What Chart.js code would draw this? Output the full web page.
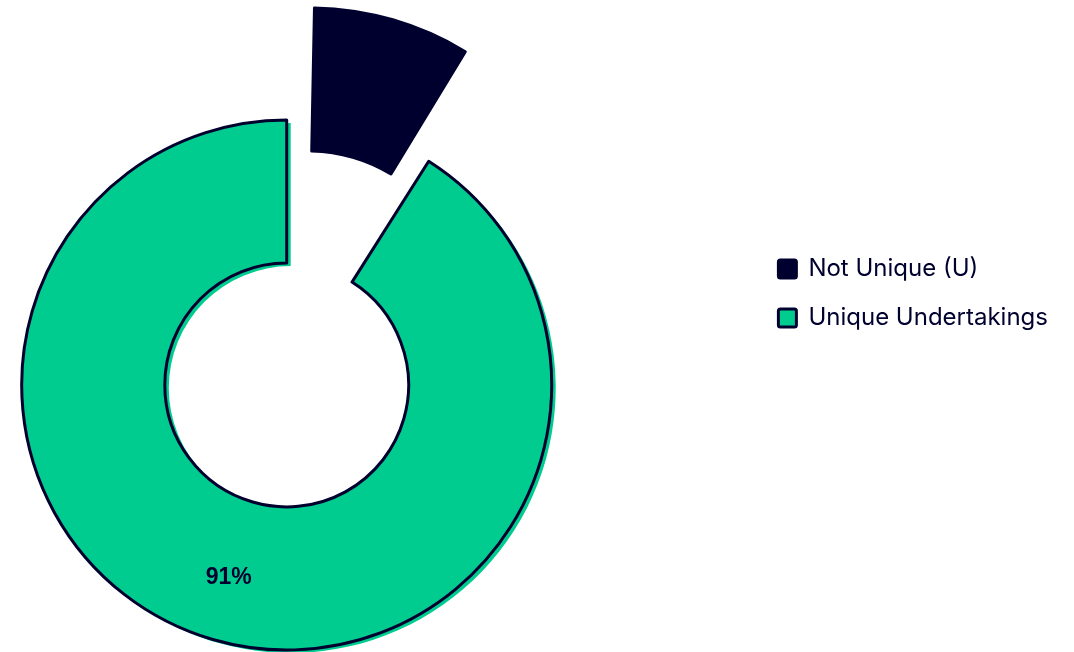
<!DOCTYPE html>
<html>
<head>
<meta charset="utf-8">
<title>Unique Undertakings</title>
<script src="https://cdn.jsdelivr.net/npm/chart.js@4.4.1/dist/chart.umd.min.js"></script>
<style>
  html, body { margin: 0; padding: 0; background: #fff; }
  #wrap { position: relative; width: 1074px; height: 652px; }
</style>
</head>
<body>
<div id="wrap"><canvas id="chart-unique"></canvas></div>
<script>
'use strict';

const categories = ['Not Unique (U)', 'Unique Undertakings'];
const shares = [9, 91];
const sliceColors = ['#00002f', '#00cc90'];
const shownLabels = [false, true];

const INK = '#00002f';
const LEGEND_GAP = 180;

// empty column between the ring and the legend
const legendGap = {
  id: 'legendGap',
  beforeInit(chart) {
    Chart.layouts.addBox(chart, {
      position: 'right',
      weight: 0,
      fullSize: false,
      options: {},
      width: 0,
      height: 0,
      isHorizontal: () => false,
      update(maxWidth, maxHeight) { this.width = LEGEND_GAP; this.height = maxHeight; },
      draw() {}
    });
  }
};

// loose fill drawn slightly off the outline, like a pen sketch
const sketchFill = {
  id: 'sketchFill',
  beforeDatasetsDraw(chart) {
    const ctx = chart.ctx;
    const meta = chart.getDatasetMeta(0);
    meta.data.forEach((arc, i) => {
      if (i === 0) return;
      const p = arc.getProps(['x', 'y', 'startAngle', 'endAngle', 'innerRadius', 'outerRadius']);
      ctx.save();
      ctx.translate(4, 3);
      ctx.fillStyle = sliceColors[i];
      ctx.beginPath();
      ctx.arc(p.x, p.y, p.outerRadius, p.startAngle, p.endAngle);
      ctx.arc(p.x, p.y, p.innerRadius, p.endAngle, p.startAngle, true);
      ctx.closePath();
      ctx.fill();
      ctx.restore();
    });
  }
};

// percentage text at the middle of each shown slice
const sliceLabels = {
  id: 'sliceLabels',
  afterDatasetsDraw(chart) {
    const ctx = chart.ctx;
    const data = chart.data.datasets[0].data;
    const total = data.reduce((a, b) => a + b, 0);
    chart.getDatasetMeta(0).data.forEach((arc, i) => {
      if (!shownLabels[i]) return;
      const pos = arc.tooltipPosition();
      ctx.save();
      ctx.font = 'bold 23px "Liberation Sans", Arial, sans-serif';
      ctx.fillStyle = INK;
      ctx.textAlign = 'center';
      ctx.textBaseline = 'middle';
      ctx.fillText(Math.round(data[i] / total * 100) + '%', pos.x - 4, pos.y + 7);
      ctx.restore();
    });
  }
};

const chart = new Chart(document.getElementById('chart-unique'), {
  type: 'doughnut',
  data: {
    labels: categories,
    datasets: [{
      data: shares,
      backgroundColor: sliceColors,
      borderColor: INK,
      borderWidth: 3,
      borderJoinStyle: 'round',
      offset: [315, 0],
      clip: false
    }]
  },
  options: {
    responsive: true,
    maintainAspectRatio: false,
    animation: false,
    radius: 265,
    cutout: '46%',
    layout: { padding: { top: 232, bottom: 114, left: 0, right: 16 } },
    plugins: {
      legend: {
        position: 'right',
        align: 'start',
        maxWidth: 400,
        labels: {
          color: INK,
          font: { family: 'Inter', size: 24 },
          boxWidth: 18,
          boxHeight: 18,
          padding: 25,
          useBorderRadius: true,
          borderRadius: 2
        }
      },
      tooltip: { enabled: false }
    }
  },
  plugins: [legendGap, sketchFill, sliceLabels]
});
</script>
</body>
</html>
